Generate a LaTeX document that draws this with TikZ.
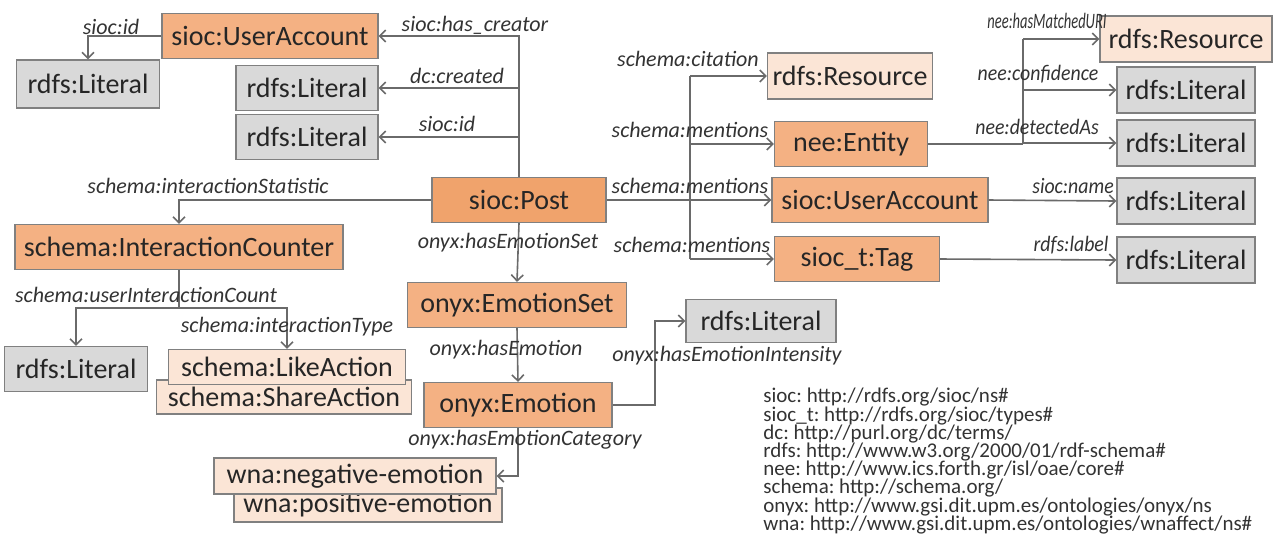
\documentclass[tikz,border=0pt]{standalone}
\usepackage{fontspec}
\usepackage{graphicx}
\setmainfont{Carlito}
\usetikzlibrary{positioning,arrows.meta}
\frenchspacing

\definecolor{orangecls}{HTML}{F4B183}
\definecolor{orangepost}{HTML}{F0A36C}
\definecolor{peach}{HTML}{FBE5D6}
\definecolor{litgray}{HTML}{D9D9D9}
\definecolor{edgegray}{HTML}{808080}
\definecolor{linegray}{HTML}{6A6A6A}

\tikzset{
  box/.style={draw=edgegray, line width=0.6pt, inner sep=0pt, minimum height=22.5pt,
    font=\fontsize{14}{16}\selectfont, text=black!85},
  cls/.style={box, fill=orangecls},
  post/.style={box, fill=orangepost},
  res/.style={box, fill=peach},
  lit/.style={box, fill=litgray, minimum width=69pt},
  lbl/.style={inner sep=0pt, font=\fontsize{11}{12}\selectfont\itshape, text=black!80},
  arr/.style={draw=linegray, line width=0.8pt, -{Straight Barb[length=3pt,width=6pt]}},
  ln/.style={draw=linegray, line width=0.8pt},
}

\begin{document}
\begin{tikzpicture}[x=0.5pt, y=-0.5pt]
  \useasboundingbox (0,0) rectangle (1280,554);

  % Noeuds
  \node[post, minimum width=87pt] (post) at (519,200) {sioc:Post};
  \node[cls, minimum width=108pt] (ua1) at (270,36) {sioc:UserAccount};
  \node[lit, minimum width=71.5pt, minimum height=24pt] (l1) at (88,84) {rdfs:Literal};
  \node[lit, minimum width=71pt] (l2) at (307,88) {rdfs:Literal};
  \node[lit, minimum width=71pt] (l3) at (307,137) {rdfs:Literal};
  \node[cls, minimum width=164pt] (ic) at (179,247) {schema:InteractionCounter};
  \node[lit, minimum width=71.5pt] (l4) at (76,369) {rdfs:Literal};
  \node[res, minimum width=127.5pt, minimum height=17pt] (share) at (284,397) {schema:ShareAction};
  \node[res, minimum width=118.5pt, minimum height=17.5pt] (like) at (287,367) {schema:LikeAction};
  \node[cls, minimum width=109.5pt] (eset) at (517,305) {onyx:EmotionSet};
  \node[cls, minimum width=94pt] (emo) at (518,405) {onyx:Emotion};
  \node[lit, minimum width=75pt, minimum height=21.5pt] (lint) at (761,321) {rdfs:Literal};
  \node[res, minimum width=134pt, minimum height=17pt] (pos) at (368,505) {wna:positive-emotion};
  \node[res, minimum width=141pt, minimum height=18pt] (neg) at (355,476) {wna:negative-emotion};

  \node[res, minimum width=82.5pt, minimum height=23pt] (res1) at (850,76) {rdfs:Resource};
  \node[cls, minimum width=76.5pt] (nee) at (851,144) {nee:Entity};
  \node[cls, minimum width=108pt] (ua2) at (880,200) {sioc:UserAccount};
  \node[cls, minimum width=82.5pt] (tag) at (857,259) {sioc\_t:Tag};
  \node[res, minimum width=86pt, minimum height=23pt] (res2) at (1186,39) {rdfs:Resource};
  \node[lit, minimum height=23pt] (lconf) at (1186,90) {rdfs:Literal};
  \node[lit, minimum height=23pt] (ldet) at (1186,143) {rdfs:Literal};
  \node[lit, minimum height=23pt] (lname) at (1186,201) {rdfs:Literal};
  \node[lit, minimum height=23pt] (llabel) at (1186,260) {rdfs:Literal};

  % Points de jonction
  \coordinate (hub) at (690,200);
  \coordinate (nhub) at (1023,144);
  \coordinate (ihub) at (179,308);
  \coordinate (ehub) at (655,405);

  % Arêtes
  \draw[arr] (post.north) |- (ua1.east);
  \draw[arr] (post.north |- l2.east) -- (l2.east);
  \draw[arr] (post.north |- l3.east) -- (l3.east);
  \draw[arr] (ua1.west) -| (l1.north);
  \draw[arr] (post.west) -| (ic.north);
  \draw[ln] (ic.south) -- (ihub);
  \draw[arr] (ihub) -| (l4.north);
  \draw[arr] (ihub) -| (like.north);
  \draw[arr] (post.south) -- (eset.north);
  \draw[arr] (eset.south) -- (emo.north);
  \draw[arr] (emo.east) -- (ehub) |- (lint.west);
  \draw[arr] (emo.south) |- (neg.east);

  \draw[ln] (post.east) -- (hub);
  \draw[ln] (hub |- res1.west) -- (hub |- tag.west);
  \draw[arr] (hub |- res1.west) -- (res1.west);
  \draw[arr] (hub |- nee.west) -- (nee.west);
  \draw[arr] (hub) -- (ua2.west);
  \draw[arr] (hub |- tag.west) -- (tag.west);

  \draw[ln] (nee.east) -- (nhub);
  \draw[ln] (nhub) -- (nhub |- res2.west);
  \draw[arr] (nhub |- res2.west) -- (res2.west);
  \draw[arr] (nhub |- lconf.west) -- (lconf.west);
  \draw[arr] (nhub |- ldet.west) -- (ldet.west);
  \draw[arr] (ua2.east) -- (lname.west);
  \draw[arr] (tag.east) -- (llabel.west);

  % Etiquettes
  \node[lbl] (t1) at (111,27) {sioc:id};
  \node[lbl] (t2) at (475,25) {sioc:has\_creator};
  \node[lbl] (t3) at (457,76) {dc:created};
  \node[lbl] (t4) at (447,124) {sioc:id};
  \node[lbl] (t5) at (208,186) {schema:interactionStatistic};
  \node[lbl] (t6) at (508,243) {onyx:hasEmotionSet};
  \node[lbl] (t7) at (146,295) {schema:userInteractionCount};
  \node[lbl] (t8) at (287,327) {schema:interactionType};
  \node[lbl] (t9) at (506,350) {onyx:hasEmotion};
  \node[lbl] (t10) at (727,356) {onyx:hasEmotionIntensity};
  \node[lbl] (t11) at (525,440) {onyx:hasEmotionCategory};
  \node[lbl] (t12) at (688,59) {schema:citation};
  \node[lbl] (t13) at (690,130) {schema:mentions};
  \node[lbl] (t14) at (690,186) {schema:mentions};
  \node[lbl] (t15) at (692,245) {schema:mentions};
  \node[lbl] (t16) at (1047,21) {\scalebox{0.66}[1]{nee:hasMatchedURI}};
  \node[lbl] (t17) at (1038,74) {\scalebox{0.9}[1]{nee:confidence}};
  \node[lbl] (t18) at (1037,127) {\scalebox{0.9}[1]{nee:detectedAs}};
  \node[lbl] (t19) at (1073,186) {\scalebox{0.9}[1]{sioc:name}};
  \node[lbl] (t20) at (1071,245) {\scalebox{0.9}[1]{rdfs:label}};

  % Prefixes
  \node[anchor=north west, inner sep=0pt, align=left, text=black!80,
    font=\fontsize{10.5}{9.1}\selectfont] (prefix) at (763,388) {%
    sioc: http://rdfs.org/sioc/ns\#\\
    sioc\_t: http://rdfs.org/sioc/types\#\\
    dc: http://purl.org/dc/terms/\\
    rdfs: http://www.w3.org/2000/01/rdf-schema\#\\
    nee: http://www.ics.forth.gr/isl/oae/core\#\\
    schema: http://schema.org/\\
    onyx: http://www.gsi.dit.upm.es/ontologies/onyx/ns\\
    wna: http://www.gsi.dit.upm.es/ontologies/wnaffect/ns\#};
\end{tikzpicture}
\end{document}
